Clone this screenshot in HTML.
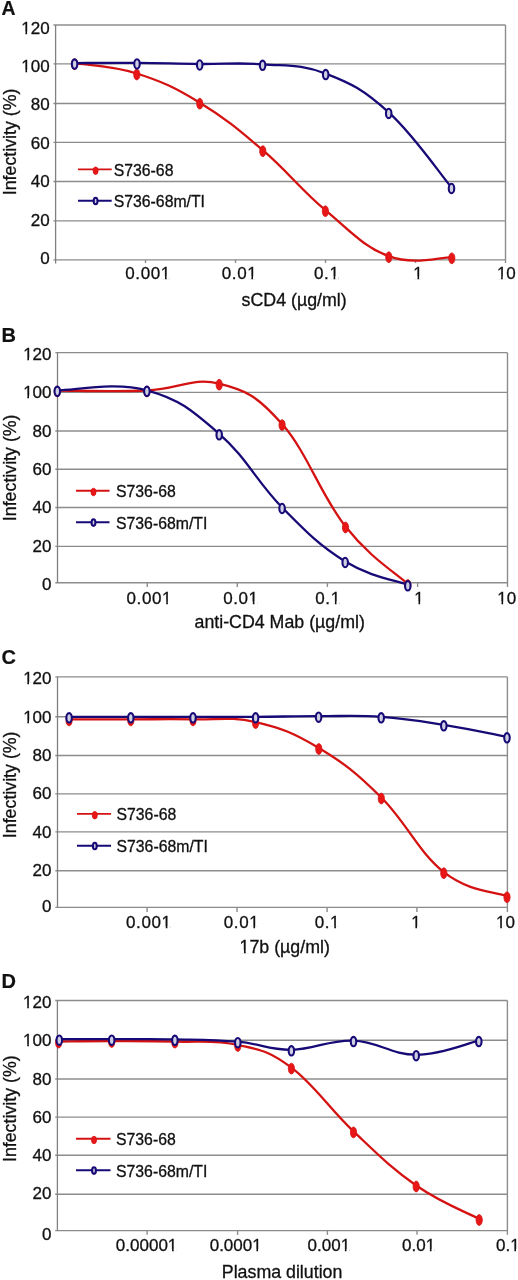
<!DOCTYPE html>
<html><head><meta charset="utf-8"><style>
html,body{margin:0;padding:0;background:#fff;}
svg{display:block;}
#w{will-change:transform;width:518px;height:1280px;}
text{font-family:"Liberation Sans", sans-serif;fill:#111;stroke:#111;stroke-width:0.3px;}
.let{stroke-width:0.2px;}
.let{font-weight:bold;}
.yl{font-size:17px;text-anchor:end;}
.xl{font-size:17px;text-anchor:middle;}
.xt{font-size:17.8px;}
.yt{font-size:17.8px;text-anchor:middle;}
.lg{font-size:15.8px;}
.grid{stroke:#8c8c8c;stroke-width:1.4;}
.axis{stroke:#808080;stroke-width:1.3;}
.rl{stroke:#d41212;stroke-width:2.3;fill:none;}
.bl{stroke:#170a76;stroke-width:2.3;fill:none;}
.rm{fill:#e81616;stroke:#d41212;stroke-width:0.8;}
.bm{fill:#cfcfe2;stroke:#170a76;stroke-width:2.1;}
</style></head><body><div id="w">
<svg width="518" height="1280" viewBox="0 0 518 1280">
<rect width="518" height="1280" fill="#fff"/>
<text x="1.6" y="15.3" class="let" style="font-size:19.4px">A</text>
<line x1="53.4" y1="25.03" x2="505.5" y2="25.03" class="grid"/>
<text x="49.6" y="33.90" class="yl">120</text>
<line x1="53.4" y1="63.92" x2="505.5" y2="63.92" class="grid"/>
<text x="49.6" y="72.10" class="yl">100</text>
<line x1="53.4" y1="103.47" x2="505.5" y2="103.47" class="grid"/>
<text x="49.6" y="110.40" class="yl">80</text>
<line x1="53.4" y1="142.40" x2="505.5" y2="142.40" class="grid"/>
<text x="49.6" y="148.50" class="yl">60</text>
<line x1="53.4" y1="181.45" x2="505.5" y2="181.45" class="grid"/>
<text x="49.6" y="186.70" class="yl">40</text>
<line x1="53.4" y1="220.90" x2="505.5" y2="220.90" class="grid"/>
<text x="49.6" y="225.70" class="yl">20</text>
<line x1="53.4" y1="259.84" x2="505.5" y2="259.84" class="grid"/>
<text x="49.6" y="263.90" class="yl">0</text>
<line x1="55.6" y1="25.03" x2="55.6" y2="263.54" class="axis"/>
<line x1="505.5" y1="25.03" x2="505.5" y2="263.04" class="grid"/>
<line x1="145.5" y1="259.84" x2="145.5" y2="263.04" class="grid"/>
<line x1="235.5" y1="259.84" x2="235.5" y2="263.04" class="grid"/>
<line x1="325.5" y1="259.84" x2="325.5" y2="263.04" class="grid"/>
<line x1="415.5" y1="259.84" x2="415.5" y2="263.04" class="grid"/>
<text x="148.10" y="278.70" class="xl" style="letter-spacing:0.60px">0.001</text>
<text x="239.50" y="278.70" class="xl" style="letter-spacing:0.60px">0.01</text>
<text x="326.75" y="278.70" class="xl" style="letter-spacing:0.60px">0.1</text>
<text x="418.00" y="278.70" class="xl">1</text>
<text x="506.35" y="278.70" class="xl">10</text>
<text x="241.6" y="305.50" class="xt">sCD4 (µg/ml)</text>
<text transform="translate(15.5,141.9) rotate(-90)" class="yt">Infectivity (%)</text>
<path d="M74.60,63.10 C87.04,65.18 111.76,65.58 136.80,73.50 C161.84,81.42 174.60,87.36 199.80,102.70 C225.00,118.04 237.68,128.70 262.80,150.20 C287.92,171.70 300.20,189.00 325.40,210.20 C350.60,231.40 363.52,246.78 388.80,256.20 C414.08,265.62 439.20,257.08 451.80,257.30" class="rl"/>
<path d="M74.60,63.10 C87.08,63.06 111.98,62.72 137.00,62.90 C162.02,63.08 174.58,63.72 199.70,64.00 C224.82,64.28 237.40,62.38 262.60,64.30 C287.80,66.22 300.48,63.98 325.70,73.60 C350.92,83.22 363.54,89.62 388.70,112.40 C413.86,135.18 438.94,172.48 451.50,187.50" class="bl"/>
<ellipse cx="74.6" cy="64.1" rx="3.1" ry="5.4" class="rm"/>
<ellipse cx="136.8" cy="74.5" rx="3.1" ry="5.4" class="rm"/>
<ellipse cx="199.8" cy="103.7" rx="3.1" ry="5.4" class="rm"/>
<ellipse cx="262.8" cy="151.2" rx="3.1" ry="5.4" class="rm"/>
<ellipse cx="325.4" cy="211.2" rx="3.1" ry="5.4" class="rm"/>
<ellipse cx="388.8" cy="257.2" rx="3.1" ry="5.4" class="rm"/>
<ellipse cx="451.8" cy="258.3" rx="3.1" ry="5.4" class="rm"/>
<ellipse cx="74.6" cy="64.1" rx="2.75" ry="4.7" class="bm"/>
<ellipse cx="137.0" cy="63.9" rx="2.75" ry="4.7" class="bm"/>
<ellipse cx="199.7" cy="65.0" rx="2.75" ry="4.7" class="bm"/>
<ellipse cx="262.6" cy="65.3" rx="2.75" ry="4.7" class="bm"/>
<ellipse cx="325.7" cy="74.6" rx="2.75" ry="4.7" class="bm"/>
<ellipse cx="388.7" cy="113.4" rx="2.75" ry="4.7" class="bm"/>
<ellipse cx="451.5" cy="188.5" rx="2.75" ry="4.7" class="bm"/>
<line x1="78.0" y1="169.4" x2="111.7" y2="169.4" class="rl" style="stroke-width:1.9"/>
<ellipse cx="95.6" cy="170.7" rx="2.5" ry="3.8" class="rm"/>
<text x="113.7" y="175.7" class="lg">S736-68</text>
<line x1="78.0" y1="200.7" x2="111.7" y2="200.7" class="bl" style="stroke-width:1.9"/>
<ellipse cx="95.6" cy="201.0" rx="1.9" ry="3.3" class="bm"/>
<text x="113.7" y="207.0" class="lg">S736-68m/TI</text>
<text x="1.6" y="341.7" class="let" style="font-size:20.0px">B</text>
<line x1="55.3" y1="352.65" x2="507.5" y2="352.65" class="grid"/>
<text x="51.5" y="360.20" class="yl">120</text>
<line x1="55.3" y1="392.40" x2="507.5" y2="392.40" class="grid"/>
<text x="51.5" y="398.00" class="yl">100</text>
<line x1="55.3" y1="430.94" x2="507.5" y2="430.94" class="grid"/>
<text x="51.5" y="436.60" class="yl">80</text>
<line x1="55.3" y1="469.27" x2="507.5" y2="469.27" class="grid"/>
<text x="51.5" y="474.80" class="yl">60</text>
<line x1="55.3" y1="507.43" x2="507.5" y2="507.43" class="grid"/>
<text x="51.5" y="512.90" class="yl">40</text>
<line x1="55.3" y1="546.33" x2="507.5" y2="546.33" class="grid"/>
<text x="51.5" y="551.60" class="yl">20</text>
<line x1="55.3" y1="582.77" x2="507.5" y2="582.77" class="grid"/>
<text x="51.5" y="590.00" class="yl">0</text>
<line x1="57.5" y1="352.65" x2="57.5" y2="582.77" class="axis"/>
<line x1="507.5" y1="352.65" x2="507.5" y2="586.97" class="grid"/>
<line x1="147.3" y1="582.77" x2="147.3" y2="586.97" class="grid"/>
<line x1="237.3" y1="582.77" x2="237.3" y2="586.97" class="grid"/>
<line x1="327.4" y1="582.77" x2="327.4" y2="586.97" class="grid"/>
<line x1="417.6" y1="582.77" x2="417.6" y2="586.97" class="grid"/>
<text x="149.30" y="603.90" class="xl" style="letter-spacing:0.60px">0.001</text>
<text x="240.95" y="603.90" class="xl" style="letter-spacing:0.60px">0.01</text>
<text x="328.00" y="603.90" class="xl" style="letter-spacing:0.60px">0.1</text>
<text x="419.00" y="603.90" class="xl">1</text>
<text x="506.75" y="603.90" class="xl">10</text>
<text x="194.5" y="627.70" class="xt">anti-CD4 Mab (µg/ml)</text>
<text transform="translate(15.5,467.8) rotate(-90)" class="yt">Infectivity (%)</text>
<path d="M57.30,390.50 C75.22,390.50 114.52,391.86 146.90,390.50 C179.28,389.14 192.16,376.98 219.20,383.70 C246.24,390.42 256.84,395.54 282.10,424.10 C307.36,452.66 320.36,494.52 345.50,526.50 C370.64,558.48 395.34,572.50 407.80,584.00" class="rl"/>
<path d="M57.30,390.30 C75.22,390.30 114.52,381.60 146.90,390.30 C179.28,399.00 192.16,410.36 219.20,433.80 C246.24,457.24 256.90,481.96 282.10,507.50 C307.30,533.04 320.06,546.04 345.20,561.50 C370.34,576.96 395.28,580.14 407.80,584.80" class="bl"/>
<ellipse cx="57.3" cy="391.5" rx="3.1" ry="5.4" class="rm"/>
<ellipse cx="146.9" cy="391.5" rx="3.1" ry="5.4" class="rm"/>
<ellipse cx="219.2" cy="384.7" rx="3.1" ry="5.4" class="rm"/>
<ellipse cx="282.1" cy="425.1" rx="3.1" ry="5.4" class="rm"/>
<ellipse cx="345.5" cy="527.5" rx="3.1" ry="5.4" class="rm"/>
<ellipse cx="407.8" cy="585.0" rx="3.1" ry="5.4" class="rm"/>
<ellipse cx="57.3" cy="391.3" rx="2.75" ry="4.7" class="bm"/>
<ellipse cx="146.9" cy="391.3" rx="2.75" ry="4.7" class="bm"/>
<ellipse cx="219.2" cy="434.8" rx="2.75" ry="4.7" class="bm"/>
<ellipse cx="282.1" cy="508.5" rx="2.75" ry="4.7" class="bm"/>
<ellipse cx="345.2" cy="562.5" rx="2.75" ry="4.7" class="bm"/>
<ellipse cx="407.8" cy="585.8" rx="2.75" ry="4.7" class="bm"/>
<line x1="76.0" y1="490.7" x2="109.5" y2="490.7" class="rl" style="stroke-width:1.9"/>
<ellipse cx="93.5" cy="492.0" rx="2.5" ry="3.8" class="rm"/>
<text x="116.0" y="497.0" class="lg">S736-68</text>
<line x1="76.0" y1="522.3" x2="109.5" y2="522.3" class="bl" style="stroke-width:1.9"/>
<ellipse cx="93.5" cy="522.6" rx="1.9" ry="3.3" class="bm"/>
<text x="116.0" y="528.6" class="lg">S736-68m/TI</text>
<text x="1.6" y="663.6" class="let" style="font-size:20.0px">C</text>
<line x1="55.3" y1="676.88" x2="507.4" y2="676.88" class="grid"/>
<text x="51.5" y="684.40" class="yl">120</text>
<line x1="55.3" y1="716.76" x2="507.4" y2="716.76" class="grid"/>
<text x="51.5" y="722.80" class="yl">100</text>
<line x1="55.3" y1="755.44" x2="507.4" y2="755.44" class="grid"/>
<text x="51.5" y="761.10" class="yl">80</text>
<line x1="55.3" y1="793.86" x2="507.4" y2="793.86" class="grid"/>
<text x="51.5" y="799.40" class="yl">60</text>
<line x1="55.3" y1="831.88" x2="507.4" y2="831.88" class="grid"/>
<text x="51.5" y="837.80" class="yl">40</text>
<line x1="55.3" y1="870.68" x2="507.4" y2="870.68" class="grid"/>
<text x="51.5" y="876.10" class="yl">20</text>
<line x1="55.3" y1="907.37" x2="507.4" y2="907.37" class="grid"/>
<text x="51.5" y="912.10" class="yl">0</text>
<line x1="57.5" y1="676.88" x2="57.5" y2="907.37" class="axis"/>
<line x1="507.4" y1="676.88" x2="507.4" y2="912.07" class="grid"/>
<line x1="147.1" y1="907.37" x2="147.1" y2="912.07" class="grid"/>
<line x1="237.0" y1="907.37" x2="237.0" y2="912.07" class="grid"/>
<line x1="327.1" y1="907.37" x2="327.1" y2="912.07" class="grid"/>
<line x1="416.9" y1="907.37" x2="416.9" y2="912.07" class="grid"/>
<text x="148.85" y="928.40" class="xl" style="letter-spacing:0.60px">0.001</text>
<text x="241.55" y="928.40" class="xl" style="letter-spacing:0.60px">0.01</text>
<text x="327.40" y="928.40" class="xl" style="letter-spacing:0.60px">0.1</text>
<text x="415.90" y="928.40" class="xl">1</text>
<text x="505.50" y="928.40" class="xl">10</text>
<text x="239.6" y="952.60" class="xt">17b (µg/ml)</text>
<text transform="translate(15.5,784.8) rotate(-90)" class="yt">Infectivity (%)</text>
<path d="M69.10,719.40 C81.44,719.40 106.02,719.40 130.80,719.40 C155.58,719.40 168.04,718.86 193.00,719.40 C217.96,719.94 230.44,716.38 255.60,722.10 C280.76,727.82 293.66,732.92 318.80,748.00 C343.94,763.08 356.30,772.66 381.30,797.50 C406.30,822.34 418.66,852.44 443.80,872.20 C468.94,891.96 494.36,891.48 507.00,896.30" class="rl"/>
<path d="M69.10,716.80 C81.44,716.80 106.02,716.80 130.80,716.80 C155.58,716.80 168.04,716.80 193.00,716.80 C217.96,716.80 230.48,716.92 255.60,716.80 C280.72,716.68 293.48,716.20 318.60,716.20 C343.72,716.20 356.16,715.08 381.20,716.80 C406.24,718.52 418.64,720.80 443.80,724.80 C468.96,728.80 494.36,734.40 507.00,736.80" class="bl"/>
<ellipse cx="69.1" cy="720.4" rx="3.1" ry="5.4" class="rm"/>
<ellipse cx="130.8" cy="720.4" rx="3.1" ry="5.4" class="rm"/>
<ellipse cx="193.0" cy="720.4" rx="3.1" ry="5.4" class="rm"/>
<ellipse cx="255.6" cy="723.1" rx="3.1" ry="5.4" class="rm"/>
<ellipse cx="318.8" cy="749.0" rx="3.1" ry="5.4" class="rm"/>
<ellipse cx="381.3" cy="798.5" rx="3.1" ry="5.4" class="rm"/>
<ellipse cx="443.8" cy="873.2" rx="3.1" ry="5.4" class="rm"/>
<ellipse cx="507.0" cy="897.3" rx="3.1" ry="5.4" class="rm"/>
<ellipse cx="69.1" cy="717.8" rx="2.75" ry="4.7" class="bm"/>
<ellipse cx="130.8" cy="717.8" rx="2.75" ry="4.7" class="bm"/>
<ellipse cx="193.0" cy="717.8" rx="2.75" ry="4.7" class="bm"/>
<ellipse cx="255.6" cy="717.8" rx="2.75" ry="4.7" class="bm"/>
<ellipse cx="318.6" cy="717.2" rx="2.75" ry="4.7" class="bm"/>
<ellipse cx="381.2" cy="717.8" rx="2.75" ry="4.7" class="bm"/>
<ellipse cx="443.8" cy="725.8" rx="2.75" ry="4.7" class="bm"/>
<ellipse cx="507.0" cy="737.8" rx="2.75" ry="4.7" class="bm"/>
<line x1="77.0" y1="813.9" x2="111.0" y2="813.9" class="rl" style="stroke-width:1.9"/>
<ellipse cx="94.8" cy="815.2" rx="2.5" ry="3.8" class="rm"/>
<text x="116.5" y="820.2" class="lg">S736-68</text>
<line x1="77.0" y1="845.7" x2="111.0" y2="845.7" class="bl" style="stroke-width:1.9"/>
<ellipse cx="94.8" cy="846.0" rx="1.9" ry="3.3" class="bm"/>
<text x="116.5" y="852.0" class="lg">S736-68m/TI</text>
<text x="1.6" y="987.8" class="let" style="font-size:20.0px">D</text>
<line x1="55.2" y1="1000.50" x2="507.4" y2="1000.50" class="grid"/>
<text x="51.4" y="1008.00" class="yl">120</text>
<line x1="55.2" y1="1040.25" x2="507.4" y2="1040.25" class="grid"/>
<text x="51.4" y="1046.30" class="yl">100</text>
<line x1="55.2" y1="1079.02" x2="507.4" y2="1079.02" class="grid"/>
<text x="51.4" y="1084.60" class="yl">80</text>
<line x1="55.2" y1="1117.14" x2="507.4" y2="1117.14" class="grid"/>
<text x="51.4" y="1122.90" class="yl">60</text>
<line x1="55.2" y1="1155.31" x2="507.4" y2="1155.31" class="grid"/>
<text x="51.4" y="1161.10" class="yl">40</text>
<line x1="55.2" y1="1194.20" x2="507.4" y2="1194.20" class="grid"/>
<text x="51.4" y="1199.40" class="yl">20</text>
<line x1="55.2" y1="1230.63" x2="507.4" y2="1230.63" class="grid"/>
<text x="51.4" y="1239.60" class="yl">0</text>
<line x1="57.4" y1="1000.50" x2="57.4" y2="1230.63" class="axis"/>
<line x1="507.4" y1="1000.50" x2="507.4" y2="1234.83" class="grid"/>
<line x1="147.1" y1="1230.63" x2="147.1" y2="1234.83" class="grid"/>
<line x1="237.6" y1="1230.63" x2="237.6" y2="1234.83" class="grid"/>
<line x1="327.4" y1="1230.63" x2="327.4" y2="1234.83" class="grid"/>
<line x1="417.0" y1="1230.63" x2="417.0" y2="1234.83" class="grid"/>
<text x="146.60" y="1251.30" class="xl">0.00001</text>
<text x="235.70" y="1251.30" class="xl">0.0001</text>
<text x="328.85" y="1251.30" class="xl">0.001</text>
<text x="418.60" y="1251.30" class="xl">0.01</text>
<text x="507.80" y="1251.30" class="xl">0.1</text>
<text x="221.8" y="1277.60" class="xt">Plasma dilution</text>
<text transform="translate(15.5,1108.7) rotate(-90)" class="yt">Infectivity (%)</text>
<path d="M58.60,1041.60 C69.22,1041.48 88.44,1041.00 111.70,1041.00 C134.96,1041.00 149.68,1040.80 174.90,1041.60 C200.12,1042.40 214.50,1039.80 237.80,1045.00 C261.10,1050.20 268.26,1050.32 291.40,1067.60 C314.54,1084.88 328.54,1107.82 353.50,1131.40 C378.46,1154.98 391.06,1167.98 416.20,1185.50 C441.34,1203.02 466.60,1212.30 479.20,1219.00" class="rl"/>
<path d="M59.30,1039.20 C69.78,1039.20 88.58,1039.18 111.70,1039.20 C134.82,1039.22 149.68,1038.80 174.90,1039.30 C200.12,1039.80 214.50,1039.60 237.80,1041.70 C261.10,1043.80 268.26,1050.02 291.40,1049.80 C314.54,1049.58 328.54,1039.62 353.50,1040.60 C378.46,1041.58 391.14,1054.70 416.20,1054.70 C441.26,1054.70 466.28,1043.42 478.80,1040.60" class="bl"/>
<ellipse cx="58.6" cy="1042.6" rx="3.1" ry="5.4" class="rm"/>
<ellipse cx="111.7" cy="1042.0" rx="3.1" ry="5.4" class="rm"/>
<ellipse cx="174.9" cy="1042.6" rx="3.1" ry="5.4" class="rm"/>
<ellipse cx="237.8" cy="1046.0" rx="3.1" ry="5.4" class="rm"/>
<ellipse cx="291.4" cy="1068.6" rx="3.1" ry="5.4" class="rm"/>
<ellipse cx="353.5" cy="1132.4" rx="3.1" ry="5.4" class="rm"/>
<ellipse cx="416.2" cy="1186.5" rx="3.1" ry="5.4" class="rm"/>
<ellipse cx="479.2" cy="1220.0" rx="3.1" ry="5.4" class="rm"/>
<ellipse cx="59.3" cy="1040.2" rx="2.75" ry="4.7" class="bm"/>
<ellipse cx="111.7" cy="1040.2" rx="2.75" ry="4.7" class="bm"/>
<ellipse cx="174.9" cy="1040.3" rx="2.75" ry="4.7" class="bm"/>
<ellipse cx="237.8" cy="1042.7" rx="2.75" ry="4.7" class="bm"/>
<ellipse cx="291.4" cy="1050.8" rx="2.75" ry="4.7" class="bm"/>
<ellipse cx="353.5" cy="1041.6" rx="2.75" ry="4.7" class="bm"/>
<ellipse cx="416.2" cy="1055.7" rx="2.75" ry="4.7" class="bm"/>
<ellipse cx="478.8" cy="1041.6" rx="2.75" ry="4.7" class="bm"/>
<line x1="76.0" y1="1138.7" x2="110.5" y2="1138.7" class="rl" style="stroke-width:1.9"/>
<ellipse cx="94.0" cy="1140.0" rx="2.5" ry="3.8" class="rm"/>
<text x="116.0" y="1145.0" class="lg">S736-68</text>
<line x1="76.0" y1="1170.3" x2="110.5" y2="1170.3" class="bl" style="stroke-width:1.9"/>
<ellipse cx="94.0" cy="1170.6" rx="1.9" ry="3.3" class="bm"/>
<text x="116.0" y="1176.6" class="lg">S736-68m/TI</text>
<rect x="21.64" y="31.60" width="3.78" height="3.40" fill="#fff"/>
<rect x="27.09" y="31.60" width="3.19" height="3.40" fill="#fff"/>
<rect x="21.64" y="69.80" width="3.78" height="3.40" fill="#fff"/>
<rect x="27.09" y="69.80" width="3.19" height="3.40" fill="#fff"/>
<rect x="161.23" y="276.40" width="3.78" height="3.40" fill="#fff"/>
<rect x="166.67" y="276.40" width="3.19" height="3.40" fill="#fff"/>
<rect x="247.59" y="276.40" width="3.78" height="3.40" fill="#fff"/>
<rect x="253.03" y="276.40" width="3.19" height="3.40" fill="#fff"/>
<rect x="329.82" y="276.40" width="3.78" height="3.40" fill="#fff"/>
<rect x="335.27" y="276.40" width="3.19" height="3.40" fill="#fff"/>
<rect x="413.68" y="276.40" width="3.78" height="3.40" fill="#fff"/>
<rect x="419.13" y="276.40" width="3.19" height="3.40" fill="#fff"/>
<rect x="497.30" y="276.40" width="3.78" height="3.40" fill="#fff"/>
<rect x="502.75" y="276.40" width="3.19" height="3.40" fill="#fff"/>
<rect x="23.54" y="357.90" width="3.78" height="3.40" fill="#fff"/>
<rect x="28.99" y="357.90" width="3.19" height="3.40" fill="#fff"/>
<rect x="23.54" y="395.70" width="3.78" height="3.40" fill="#fff"/>
<rect x="28.99" y="395.70" width="3.19" height="3.40" fill="#fff"/>
<rect x="162.43" y="601.60" width="3.78" height="3.40" fill="#fff"/>
<rect x="167.87" y="601.60" width="3.19" height="3.40" fill="#fff"/>
<rect x="249.04" y="601.60" width="3.78" height="3.40" fill="#fff"/>
<rect x="254.48" y="601.60" width="3.19" height="3.40" fill="#fff"/>
<rect x="331.07" y="601.60" width="3.78" height="3.40" fill="#fff"/>
<rect x="336.52" y="601.60" width="3.19" height="3.40" fill="#fff"/>
<rect x="414.68" y="601.60" width="3.78" height="3.40" fill="#fff"/>
<rect x="420.13" y="601.60" width="3.19" height="3.40" fill="#fff"/>
<rect x="497.70" y="601.60" width="3.78" height="3.40" fill="#fff"/>
<rect x="503.15" y="601.60" width="3.19" height="3.40" fill="#fff"/>
<rect x="23.54" y="682.10" width="3.78" height="3.40" fill="#fff"/>
<rect x="28.99" y="682.10" width="3.19" height="3.40" fill="#fff"/>
<rect x="23.54" y="720.50" width="3.78" height="3.40" fill="#fff"/>
<rect x="28.99" y="720.50" width="3.19" height="3.40" fill="#fff"/>
<rect x="161.98" y="926.10" width="3.78" height="3.40" fill="#fff"/>
<rect x="167.42" y="926.10" width="3.19" height="3.40" fill="#fff"/>
<rect x="249.64" y="926.10" width="3.78" height="3.40" fill="#fff"/>
<rect x="255.08" y="926.10" width="3.19" height="3.40" fill="#fff"/>
<rect x="330.47" y="926.10" width="3.78" height="3.40" fill="#fff"/>
<rect x="335.92" y="926.10" width="3.19" height="3.40" fill="#fff"/>
<rect x="411.58" y="926.10" width="3.78" height="3.40" fill="#fff"/>
<rect x="417.03" y="926.10" width="3.19" height="3.40" fill="#fff"/>
<rect x="496.45" y="926.10" width="3.78" height="3.40" fill="#fff"/>
<rect x="501.90" y="926.10" width="3.19" height="3.40" fill="#fff"/>
<rect x="240.03" y="950.30" width="3.95" height="3.40" fill="#fff"/>
<rect x="245.74" y="950.30" width="3.34" height="3.40" fill="#fff"/>
<rect x="23.44" y="1005.70" width="3.78" height="3.40" fill="#fff"/>
<rect x="28.89" y="1005.70" width="3.19" height="3.40" fill="#fff"/>
<rect x="23.44" y="1044.00" width="3.78" height="3.40" fill="#fff"/>
<rect x="28.89" y="1044.00" width="3.19" height="3.40" fill="#fff"/>
<rect x="168.27" y="1249.00" width="3.78" height="3.40" fill="#fff"/>
<rect x="173.72" y="1249.00" width="3.19" height="3.40" fill="#fff"/>
<rect x="252.65" y="1249.00" width="3.78" height="3.40" fill="#fff"/>
<rect x="258.09" y="1249.00" width="3.19" height="3.40" fill="#fff"/>
<rect x="341.07" y="1249.00" width="3.78" height="3.40" fill="#fff"/>
<rect x="346.52" y="1249.00" width="3.19" height="3.40" fill="#fff"/>
<rect x="426.09" y="1249.00" width="3.78" height="3.40" fill="#fff"/>
<rect x="431.54" y="1249.00" width="3.19" height="3.40" fill="#fff"/>
<rect x="510.57" y="1249.00" width="3.78" height="3.40" fill="#fff"/>
<rect x="516.01" y="1249.00" width="3.19" height="3.40" fill="#fff"/>
</svg>
</div></body></html>
